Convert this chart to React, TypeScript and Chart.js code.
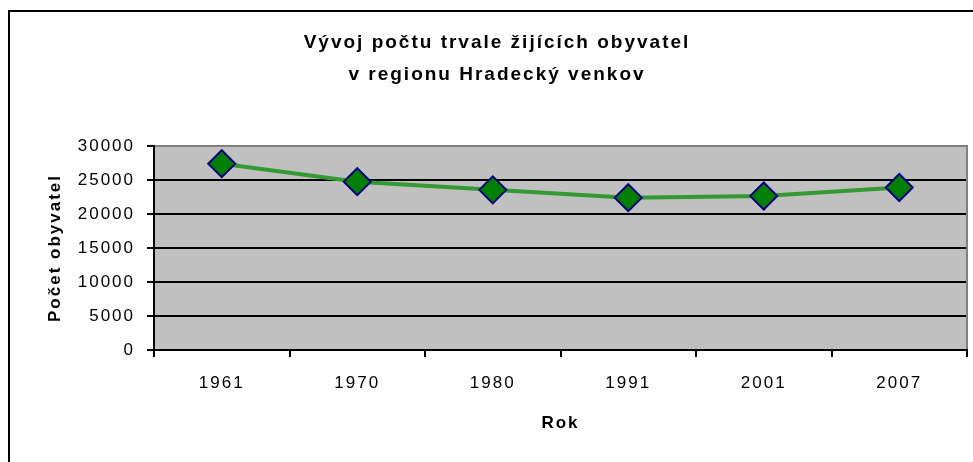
import React, { useEffect, useRef } from 'react';
import { Chart, registerables } from 'chart.js';

Chart.register(...registerables);

const categories = ['1961', '1970', '1980', '1991', '2001', '2007'];
const population = [27400, 24750, 23550, 22400, 22650, 23900];
const titleLines = ['Vývoj počtu trvale žijících obyvatel', 'v regionu Hradecký venkov'];
const yAxisTitle = 'Počet obyvatel';
const xAxisTitle = 'Rok';
const yMin = 0;
const yMax = 30000;
const yStep = 5000;

const FAMILY = '"Liberation Sans", Arial, sans-serif';
const LS = '2px';

const spacingPlugin = {
  id: 'letterSpacing',
  beforeLayout(chart: any) {
    chart.ctx.letterSpacing = LS;
  },
  beforeDraw(chart: any) {
    chart.ctx.letterSpacing = LS;
  },
};

const plotAreaPlugin = {
  id: 'plotArea',
  beforeDraw(chart: any) {
    const { ctx, chartArea: a } = chart;
    ctx.save();
    ctx.fillStyle = '#C0C0C0';
    ctx.fillRect(a.left, a.top, a.right - a.left, a.bottom - a.top);
    ctx.restore();
  },
  beforeDatasetsDraw(chart: any) {
    const { ctx, chartArea: a } = chart;
    ctx.save();
    ctx.strokeStyle = '#808080';
    ctx.lineWidth = 2;
    ctx.beginPath();
    ctx.moveTo(a.left + 1, a.top);
    ctx.lineTo(a.right, a.top);
    ctx.lineTo(a.right, a.bottom - 1);
    ctx.stroke();
    ctx.restore();
  },
};

export default function App() {
  const ref = useRef<HTMLCanvasElement | null>(null);

  useEffect(() => {
    if (!ref.current) return;
    const chart = new Chart(ref.current, {
      type: 'line',
      data: {
        labels: categories,
        datasets: [
          {
            data: population,
            borderColor: '#339933',
            borderWidth: 4,
            tension: 0,
            pointStyle: 'rectRot',
            pointRadius: 13.5,
            pointBackgroundColor: '#008000',
            pointBorderColor: '#000080',
            pointBorderWidth: 2,
          },
        ],
      },
      options: {
        responsive: false,
        animation: false,
        devicePixelRatio: 1,
        layout: { padding: { left: 27, right: 23, top: 0, bottom: 0 } },
        plugins: {
          legend: { display: false },
          tooltip: { enabled: false },
          title: {
            display: true,
            text: titleLines,
            color: '#000',
            font: { family: FAMILY, size: 19, weight: 'bold', lineHeight: '32px' },
            padding: { top: 27, bottom: 55 },
          },
        },
        scales: {
          x: {
            type: 'category',
            offset: true,
            grid: {
              display: true,
              drawOnChartArea: false,
              drawTicks: true,
              tickLength: 7,
              offset: true,
              color: '#000',
              lineWidth: 2,
            },
            border: { display: true, color: '#000', width: 2 },
            ticks: { color: '#000', font: { family: FAMILY, size: 17 }, padding: 16, maxRotation: 0 },
            title: {
              display: true,
              text: xAxisTitle,
              color: '#000',
              font: { family: FAMILY, size: 17, weight: 'bold' },
              padding: { top: 0, bottom: 28 },
            },
            afterFit: (s: any) => {
              s.height = 112;
            },
          },
          y: {
            min: yMin,
            max: yMax,
            ticks: {
              stepSize: yStep,
              color: '#000',
              font: { family: FAMILY, size: 17 },
              padding: 12,
              callback: (v: any) => String(v),
            },
            grid: { color: '#000', lineWidth: 2, tickLength: 7, drawTicks: true },
            border: { display: true, color: '#000', width: 2 },
            title: {
              display: true,
              text: yAxisTitle,
              color: '#000',
              font: { family: FAMILY, size: 17, weight: 'bold' },
              padding: { top: 18, bottom: 0 },
            },
            afterFit: (s: any) => {
              s.width = 127;
            },
          },
        },
      },
      plugins: [spacingPlugin, plotAreaPlugin],
    } as any);
    return () => chart.destroy();
  }, []);

  return (
    <div
      style={{
        position: 'fixed',
        left: 0,
        top: 0,
        width: 973,
        height: 462,
        overflow: 'hidden',
        background: '#fff',
      }}
    >
      <div
        style={{
          position: 'absolute',
          left: 8,
          top: 10,
          width: 2000,
          height: 2000,
          borderTop: '2px solid #000',
          borderLeft: '2px solid #000',
        }}
      />
      <canvas
        ref={ref}
        width={990}
        height={462}
        style={{ position: 'absolute', left: 0, top: 0, width: 990, height: 462 }}
      />
    </div>
  );
}
